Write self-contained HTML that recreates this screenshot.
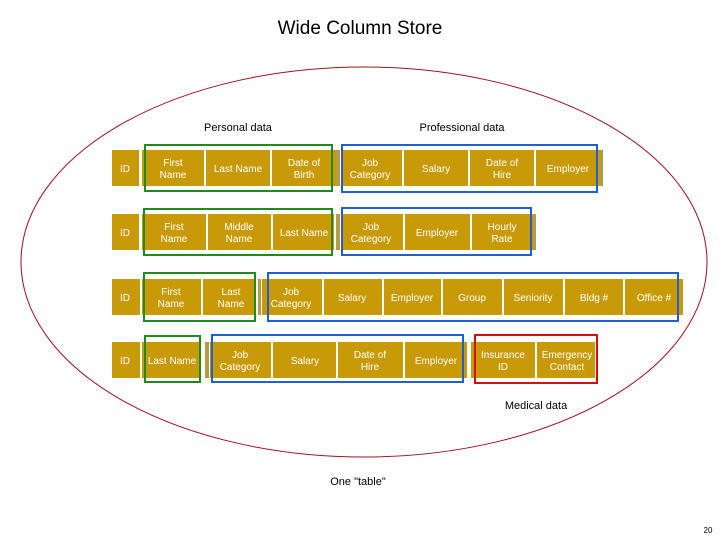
<!DOCTYPE html>
<html><head><meta charset="utf-8"><style>
html,body{margin:0;padding:0;background:#fff;width:720px;height:540px;overflow:hidden}
svg text{font-family:"Liberation Sans",sans-serif}
</style></head><body>
<svg width="720" height="540" viewBox="0 0 720 540" xmlns="http://www.w3.org/2000/svg">
<text x="360" y="34" font-size="19" text-anchor="middle" fill="#000">Wide Column Store</text>
<ellipse cx="364" cy="262" rx="343" ry="195" fill="none" stroke="#a01020" stroke-width="1"/>
<text x="238" y="131" font-size="11" text-anchor="middle">Personal data</text>
<text x="462" y="131" font-size="11" text-anchor="middle">Professional data</text>
<g fill="#c89a08">
<!-- row1 -->
<rect x="112" y="150" width="27" height="36"/><rect x="142" y="150" width="62" height="36"/><rect x="206" y="150" width="64" height="36"/><rect x="272" y="150" width="64" height="36"/>
<rect x="336" y="150" width="4" height="36" fill="#b89a40"/>
<rect x="342" y="150" width="60" height="36"/><rect x="404" y="150" width="64" height="36"/><rect x="470" y="150" width="64" height="36"/><rect x="536" y="150" width="64" height="36"/><rect x="600" y="150" width="3" height="36" fill="#b89a40"/>
<!-- row2 -->
<rect x="112" y="214" width="27" height="36"/><rect x="142" y="214" width="64" height="36"/><rect x="208" y="214" width="63" height="36"/><rect x="273" y="214" width="61" height="36"/>
<rect x="336" y="214" width="4" height="36" fill="#b89a40"/>
<rect x="342" y="214" width="61" height="36"/><rect x="405" y="214" width="65" height="36"/><rect x="472" y="214" width="61" height="36"/><rect x="533" y="214" width="3" height="36" fill="#b89a40"/>
<!-- row3 -->
<rect x="112" y="279" width="28" height="36"/><rect x="142" y="279" width="59" height="36"/><rect x="203" y="279" width="52" height="36"/><rect x="258" y="279" width="3" height="36" fill="#b89a40"/>
<rect x="262" y="279" width="60" height="36"/><rect x="324" y="279" width="58" height="36"/><rect x="384" y="279" width="57" height="36"/><rect x="443" y="279" width="59" height="36"/><rect x="504" y="279" width="59" height="36"/><rect x="565" y="279" width="58" height="36"/><rect x="625" y="279" width="58" height="36"/>
<!-- row4 -->
<rect x="112" y="342" width="28" height="36"/><rect x="142" y="342" width="58" height="36"/><rect x="205" y="342" width="4" height="36" fill="#b89a40"/>
<rect x="210" y="342" width="61" height="36"/><rect x="273" y="342" width="63" height="36"/><rect x="338" y="342" width="65" height="36"/><rect x="405" y="342" width="62" height="36"/>
<rect x="471" y="342" width="64" height="36"/><rect x="537" y="342" width="58" height="36"/>
</g>
<g font-size="10" fill="#fff" text-anchor="middle">
<text x="125" y="172">ID</text><text x="173" y="166">First</text><text x="173" y="178">Name</text><text x="238" y="172">Last Name</text><text x="304" y="166">Date of</text><text x="304" y="178">Birth</text>
<text x="370" y="166">Job</text><text x="370" y="178">Category</text><text x="436" y="172">Salary</text><text x="502" y="166">Date of</text><text x="502" y="178">Hire</text><text x="568" y="172">Employer</text>
<text x="125" y="236">ID</text><text x="174" y="230">First</text><text x="174" y="242">Name</text><text x="239" y="230">Middle</text><text x="239" y="242">Name</text><text x="304" y="236">Last Name</text>
<text x="371" y="230">Job</text><text x="371" y="242">Category</text><text x="437" y="236">Employer</text><text x="502" y="230">Hourly</text><text x="502" y="242">Rate</text>
<text x="125" y="301">ID</text><text x="171" y="295">First</text><text x="171" y="307">Name</text><text x="231" y="295">Last</text><text x="231" y="307">Name</text>
<text x="291" y="295">Job</text><text x="291" y="307">Category</text><text x="352" y="301">Salary</text><text x="412" y="301">Employer</text><text x="472" y="301">Group</text><text x="533" y="301">Seniority</text><text x="594" y="301">Bldg #</text><text x="654" y="301">Office #</text>
<text x="125" y="364">ID</text><text x="172" y="364">Last Name</text><text x="240" y="358">Job</text><text x="240" y="370">Category</text><text x="305" y="364">Salary</text><text x="370" y="358">Date of</text><text x="370" y="370">Hire</text><text x="436" y="364">Employer</text>
<text x="503" y="358">Insurance</text><text x="503" y="370">ID</text><text x="567" y="358">Emergency</text><text x="567" y="370">Contact</text>
</g>
<g fill="none" stroke-width="2">
<rect x="145" y="145" width="187" height="46" stroke="#1f8a1f"/>
<rect x="342" y="145" width="255" height="47" stroke="#1f5fcf"/>
<rect x="144" y="209" width="188" height="46" stroke="#1f8a1f"/>
<rect x="342" y="208" width="189" height="47" stroke="#1f5fcf"/>
<rect x="144" y="273" width="111" height="48" stroke="#1f8a1f"/>
<rect x="268" y="273" width="410" height="48" stroke="#1f5fcf"/>
<rect x="145" y="336" width="55" height="46" stroke="#1f8a1f"/>
<rect x="212" y="335" width="251" height="47" stroke="#1f5fcf"/>
<rect x="475" y="335" width="122" height="48" stroke="#d01010"/>
</g>
<text x="536" y="409" font-size="11" text-anchor="middle">Medical data</text>
<text x="358" y="485" font-size="11" text-anchor="middle">One "table"</text>
<text x="708" y="533" font-size="8" text-anchor="middle">20</text>
</svg>
</body></html>
